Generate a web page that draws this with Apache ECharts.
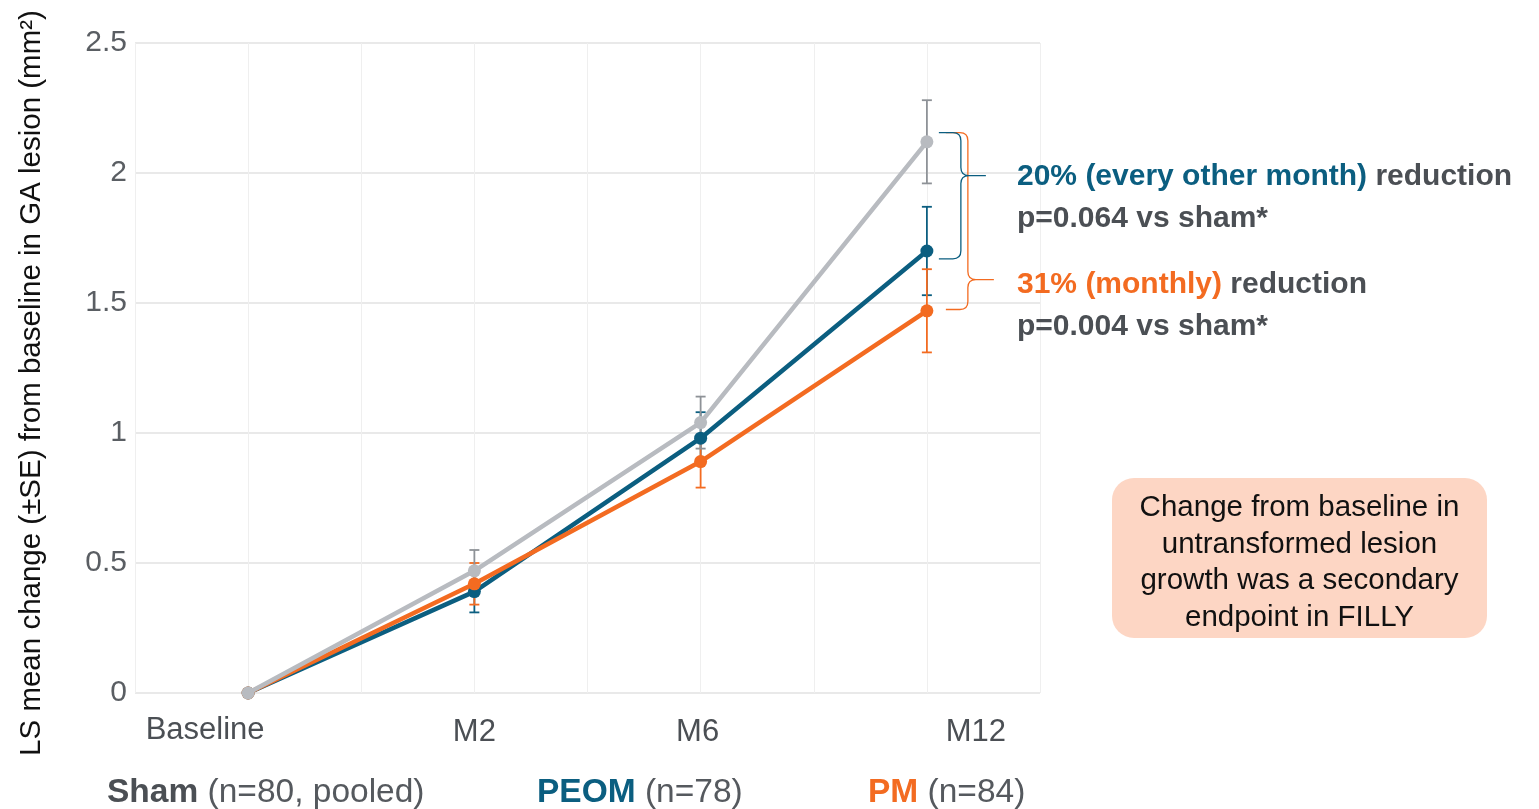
<!DOCTYPE html>
<html>
<head>
<meta charset="utf-8">
<script src="https://cdn.jsdelivr.net/npm/echarts@6/dist/echarts.min.js"></script>
<style>
html,body{margin:0;padding:0;background:#fff;}
#chart{width:1539px;height:809px;}
</style>
</head>
<body>
<div id="chart"></div>
<script>
// ---- data ----
const categories = ['Baseline', 'M2', 'M6', 'M12'];
const shamMean = [0, 0.47, 1.04, 2.12];
const shamSE   = [0, 0.08, 0.10, 0.16];
const peomMean = [0, 0.39, 0.98, 1.70];
const peomSE   = [0, 0.08, 0.10, 0.17];
const pmMean   = [0, 0.42, 0.89, 1.47];
const pmSE     = [0, 0.08, 0.10, 0.16];
const yMin = 0, yMax = 2.5, yStep = 0.5;
const yTitle = 'LS mean change (±SE) from baseline in GA lesion (mm²)';
const groupNames = ['Sham', 'PEOM', 'PM'];
const groupNotes = ['(n=80, pooled)', '(n=78)', '(n=84)'];
// braces at M12: [top value, bottom value, tip value]
const braceBlue = [2.155, 1.67, 1.99];
const braceOrange = [2.155, 1.475, 1.59];
const annoBlue = ['20% (every other month)', 'reduction', 'p=0.064 vs sham*'];
const annoOrange = ['31% (monthly)', 'reduction', 'p=0.004 vs sham*'];
const boxLines = ['Change from baseline in', 'untransformed lesion', 'growth was a secondary', 'endpoint in FILLY'];

// ---- styles ----
const FONT = '"Liberation Sans", Arial, Helvetica, sans-serif';
const C_SHAM = '#b8bbc0';
const C_PEOM = '#0b5e80';
const C_PM = '#f36b21';
const C_TXT = '#4b4f54';

const chart = echarts.init(document.getElementById('chart'), null, {renderer: 'canvas'});

function pts(mean) { return categories.map((c, i) => [i, mean[i]]); }
function errData(mean, se) {
  const out = [];
  categories.forEach((c, i) => { if (se[i] > 0) out.push([i, mean[i] - se[i], mean[i] + se[i]]); });
  return out;
}
function errSeries(name, mean, se, color) {
  return {
    type: 'custom', name: name + ' SE', z: 1, silent: true,
    encode: {x: 0, y: [1, 2]},
    data: errData(mean, se),
    renderItem: function (params, api) {
      const x = api.value(0);
      const pLo = api.coord([x, api.value(1)]);
      const pHi = api.coord([x, api.value(2)]);
      const w = 5;
      const st = {stroke: color, lineWidth: 1.8};
      return {type: 'group', children: [
        {type: 'line', shape: {x1: pHi[0], y1: pHi[1], x2: pLo[0], y2: pLo[1]}, style: st},
        {type: 'line', shape: {x1: pHi[0] - w, y1: pHi[1], x2: pHi[0] + w, y2: pHi[1]}, style: st},
        {type: 'line', shape: {x1: pLo[0] - w, y1: pLo[1], x2: pLo[0] + w, y2: pLo[1]}, style: st}
      ]};
    }
  };
}
function lineSeries(name, mean, color, z) {
  return {
    type: 'line', name: name, z: z, data: pts(mean),
    symbol: 'circle', symbolSize: 13, showSymbol: true,
    lineStyle: {color: color, width: 4.5},
    itemStyle: {color: color},
    emphasis: {disabled: true}
  };
}
function braceSeries(b, color, off) {
  return {
    type: 'custom', z: 5, silent: true,
    encode: {x: 0, y: [1, 2, 3]},
    data: [[categories.length - 1, b[0], b[1], b[2]]],
    renderItem: function (params, api) {
      const x = api.value(0);
      const pt = api.coord([x, api.value(1)]);
      const pb = api.coord([x, api.value(2)]);
      const pm = api.coord([x, api.value(3)]);
      const x0 = pt[0] + off[0], xv = pt[0] + off[1], xt = pt[0] + off[2];
      const yt = pt[1], yb = pb[1], ym = pm[1], r = 8;
      const d = 'M' + x0 + ' ' + yt + ' L' + (xv - r) + ' ' + yt +
        ' Q' + xv + ' ' + yt + ' ' + xv + ' ' + (yt + r) +
        ' L' + xv + ' ' + (ym - r) +
        ' Q' + xv + ' ' + ym + ' ' + (xv + r) + ' ' + ym +
        ' L' + xt + ' ' + ym +
        ' M' + (xv + r) + ' ' + ym +
        ' Q' + xv + ' ' + ym + ' ' + xv + ' ' + (ym + r) +
        ' L' + xv + ' ' + (yb - r) +
        ' Q' + xv + ' ' + yb + ' ' + (xv - r) + ' ' + yb +
        ' L' + x0 + ' ' + yb;
      return {type: 'path', shape: {pathData: d}, style: {stroke: color, lineWidth: 1.3, fill: null}};
    }
  };
}

const labelPad = {0: [0, 86, 0, 0], 1: [4, 0, 0, 0], 2: [4, 6, 0, 0], 3: [4, 0, 0, 98]};
const richX = {};
categories.forEach((c, i) => {
  richX['c' + i] = {fontFamily: FONT, fontSize: 31, color: C_TXT, padding: labelPad[i], lineHeight: 30};
});

function annoText(lines) {
  return '{a|' + lines[0] + '}{g| ' + lines[1] + '}\n{g|' + lines[2] + '}';
}
const annoRich = function (color) {
  return {
    a: {fontFamily: FONT, fontSize: 30, fontWeight: 'bold', fill: color, lineHeight: 42},
    g: {fontFamily: FONT, fontSize: 30, fontWeight: 'bold', fill: C_TXT, lineHeight: 42}
  };
};
function legendText(i, color) {
  return {type: 'text', z: 100, left: [107, 537, 868][i], top: 776, style: {
    text: '{b|' + groupNames[i] + '}{n| ' + groupNotes[i] + '}',
    rich: {
      b: {fontFamily: FONT, fontSize: 33.5, fontWeight: 'bold', fill: color},
      n: {fontFamily: FONT, fontSize: 33.5, fill: '#55595e'}
    }
  }};
}

const option = {
  animation: false,
  backgroundColor: '#ffffff',
  grid: {left: 135, top: 43, width: 905, height: 650, containLabel: false},
  xAxis: {
    type: 'value', min: -0.5, max: categories.length - 0.5, interval: 0.5,
    axisLine: {show: false}, axisTick: {show: false},
    splitLine: {show: true, lineStyle: {color: '#efefef', width: 1}},
    axisLabel: {
      margin: 22,
      formatter: function (v) {
        const i = Math.round(v);
        if (Math.abs(v - i) > 1e-6 || i < 0 || i >= categories.length) return '';
        return '{c' + i + '|' + categories[i] + '}';
      },
      rich: richX
    }
  },
  yAxis: {
    type: 'value', min: yMin, max: yMax, interval: yStep,
    name: yTitle, nameLocation: 'middle', nameGap: 88, nameRotate: 90,
    nameTextStyle: {fontFamily: FONT, fontSize: 29.5, color: '#111', padding: [0, 30, 0, 0]},
    axisLine: {show: false}, axisTick: {show: false},
    splitLine: {show: true, lineStyle: {color: '#e2e2e2', width: 1.5}},
    axisLabel: {margin: 8, fontFamily: FONT, fontSize: 30, color: '#5a5e63'}
  },
  series: [
    errSeries('PEOM', peomMean, peomSE, C_PEOM),
    errSeries('PM', pmMean, pmSE, C_PM),
    errSeries('Sham', shamMean, shamSE, '#8e9297'),
    lineSeries(groupNames[1], peomMean, C_PEOM, 2),
    lineSeries(groupNames[2], pmMean, C_PM, 3),
    lineSeries(groupNames[0], shamMean, C_SHAM, 4),
    braceSeries(braceOrange, C_PM, [19, 41, 67]),
    braceSeries(braceBlue, C_PEOM, [12, 34, 59])
  ],
  graphic: [
    {type: 'text', z: 100, left: 1017, top: 162, style: {text: annoText(annoBlue), rich: annoRich(C_PEOM)}},
    {type: 'text', z: 100, left: 1017, top: 270, style: {text: annoText(annoOrange), rich: annoRich(C_PM)}},
    {type: 'rect', z: 99, shape: {x: 1112, y: 478, width: 375, height: 160, r: 22}, style: {fill: '#fdd6c4'}},
    {type: 'text', z: 100, style: {
      text: boxLines.join('\n'), x: 1299.5, y: 563, align: 'center', verticalAlign: 'middle',
      fontFamily: FONT, fontSize: 29.5, lineHeight: 36.5, fill: '#111'
    }},
    legendText(0, C_TXT),
    legendText(1, C_PEOM),
    legendText(2, C_PM)
  ]
};
chart.setOption(option);
</script>
</body>
</html>
